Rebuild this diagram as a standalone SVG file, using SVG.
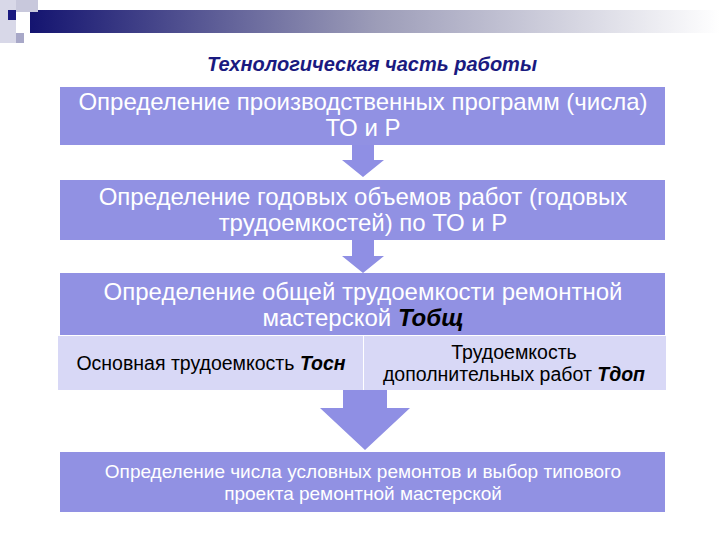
<svg xmlns="http://www.w3.org/2000/svg" width="720" height="540" viewBox="0 0 720 540">
<defs>
<linearGradient id="hg" x1="0" x2="1" y1="0" y2="0"><stop offset="0" stop-color="#141470"/><stop offset="0.5" stop-color="#9c9cb8"/><stop offset="1" stop-color="#ffffff"/></linearGradient>
</defs>
<style>
.box{fill:#9191e3}
.sub{fill:#d8d8f6}
.arr{fill:#8f8fe4}
.t{font-family:"Liberation Sans",Arial,sans-serif;fill:#fff;text-anchor:middle;font-size:24px}
.s{font-family:"Liberation Sans",Arial,sans-serif;fill:#000;text-anchor:middle;font-size:19.5px}
.b{font-weight:bold;font-style:italic}
</style>
<rect x="0" y="0" width="720" height="540" fill="#fff"/>
<rect x="30" y="10" width="690" height="23" fill="url(#hg)"/>
<rect x="0" y="0" width="16" height="43" fill="#d8d8e8"/>
<rect x="16" y="0" width="22" height="12" fill="#c8c8dc"/>
<rect x="8" y="10" width="8" height="10" fill="#1a1a80"/>
<rect x="16" y="33" width="8" height="10" fill="#a8a8c8"/>
<text x="372" y="71" font-family="Liberation Sans,Arial,sans-serif" font-size="20" font-weight="bold" font-style="italic" fill="#1a1a80" text-anchor="middle">Технологическая часть работы</text>
<g id="connectors">
<polygon class="arr" points="352,145 374,145 374,160 384,160 363,177 342,160 352,160"/>
<polygon class="arr" points="352,240 374,240 374,256 384,256 363,273 342,256 352,256"/>
<polygon class="arr" points="343,390 387,390 387,408 410,408 365,450 320,408 343,408"/>
</g>
<g id="n1"><rect class="box" x="60" y="87" width="605" height="58"/>
<text class="t" x="363" y="110">Определение производственных программ (числа)</text>
<text class="t" x="363" y="136">ТО и Р</text></g>
<g id="n2"><rect class="box" x="60" y="180" width="605" height="60"/>
<text class="t" x="363" y="205">Определение годовых объемов работ (годовых</text>
<text class="t" x="363" y="231">трудоемкостей) по ТО и Р</text></g>
<g id="n3"><rect class="box" x="60" y="273" width="605" height="62"/>
<text class="t" x="363" y="300">Определение общей трудоемкости ремонтной</text>
<text class="t" x="363" y="326">мастерской <tspan class="b" fill="#000">Тобщ</tspan></text></g>
<g id="n4"><rect class="sub" x="58" y="336" width="305" height="54"/>
<text class="s" x="211" y="370">Основная трудоемкость <tspan class="b">Тосн</tspan></text></g>
<g id="n5"><rect class="sub" x="364" y="336" width="302" height="54"/>
<text class="s" x="514" y="359">Трудоемкость</text>
<text class="s" x="514" y="381">дополнительных работ <tspan class="b">Тдоп</tspan></text></g>
<g id="n6"><rect class="box" x="60" y="452" width="605" height="60"/>
<text class="t" x="363" y="478" style="font-size:19px">Определение числа условных ремонтов и выбор типового</text>
<text class="t" x="363" y="500" style="font-size:19px">проекта ремонтной мастерской</text></g>
</svg>
